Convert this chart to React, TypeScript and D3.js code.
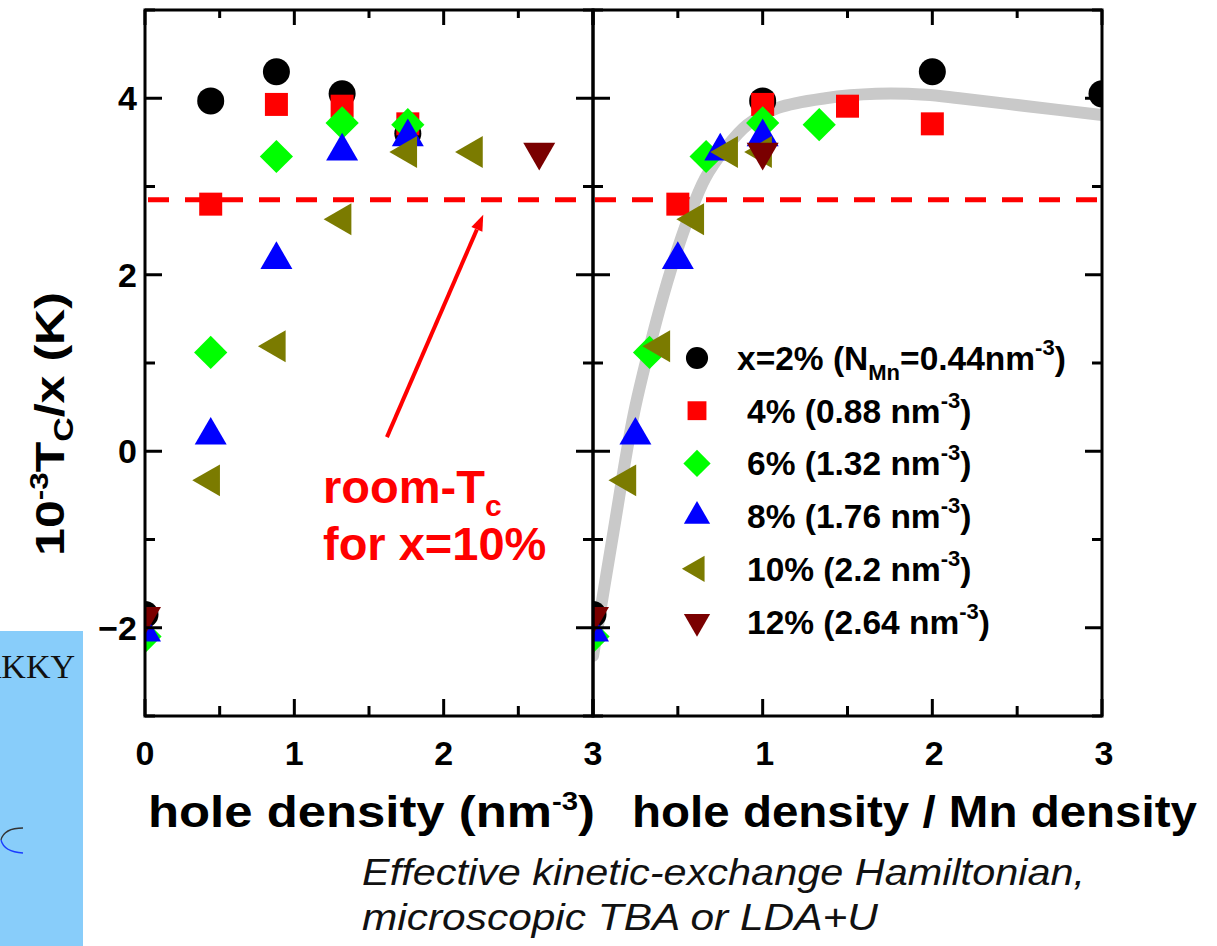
import React from "react";
import * as d3 from "d3";

const W = 1217;
const H = 946;

// Mn doping levels and their Mn densities (nm^-3)
const seriesLabels = ["x=2%", "4%", "6%", "8%", "10%", "12%"];
const mnDensities = [0.44, 0.88, 1.32, 1.76, 2.2, 2.64];
const seriesColors = ["#000000", "#ff0000", "#00ff00", "#0000ff", "#7b7b00", "#7a0000"];
const seriesMarkers = ["circle", "square", "diamond", "triangleUp", "triangleLeft", "triangleDown"];

// hole density (nm^-3) and 10^-3 Tc/x (K) for each doping level
const holeX2 = [0, 0.44, 0.88, 1.32, 1.76];
const tcX2 = [-1.85, 3.97, 4.3, 4.05, 3.6];
const holeX4 = [0.44, 0.88, 1.32, 1.76];
const tcX4 = [2.8, 3.93, 3.91, 3.71];
const holeX6 = [0, 0.44, 0.88, 1.32, 1.76];
const tcX6 = [-2.1, 1.12, 3.34, 3.72, 3.7];
const holeX8 = [0, 0.44, 0.88, 1.32, 1.76];
const tcX8 = [-2.05, 0.18, 2.17, 3.4, 3.56];
const holeX10 = [0.44, 0.88, 1.32, 1.76, 2.2];
const tcX10 = [-0.33, 1.19, 2.63, 3.39, 3.39];
const holeX12 = [0, 2.64];
const tcX12 = [-1.87, 3.39];

const seriesHole = [holeX2, holeX4, holeX6, holeX8, holeX10, holeX12];
const seriesTc = [tcX2, tcX4, tcX6, tcX8, tcX10, tcX12];

// universal curve vs hole density / Mn density
const fitRatio = [0, 0.12, 0.24, 0.37, 0.46, 0.56, 0.66, 0.78, 0.91, 1.09, 1.37, 1.67, 1.96, 2.16, 2.56, 3.0];
const fitTc = [-2.32, -0.92, 0.42, 1.45, 2.06, 2.63, 3.09, 3.43, 3.7, 3.89, 4.0, 4.05, 4.04, 4.0, 3.91, 3.81];

// room temperature Tc level for x = 10%
const roomTcLevel = 2.85;

const xTickLabelsLeft = [0, 1, 2, 3];
const xTickLabelsRight = [1, 2, 3];
const yTickLabels = [-2, 0, 2, 4];

const FONT = "'Liberation Sans', Arial, Helvetica, sans-serif";
const fmt = d3.format("d");

const y = d3.scaleLinear().domain([-3, 5]).range([716, 10]);
const xL = d3.scaleLinear().domain([0, 3]).range([145, 593]);
const xR = d3.scaleLinear().domain([0, 3]).range([593, 1102]);

function markerPath(kind: string, scale: number) {
  const s = d3.symbol();
  if (kind === "circle") return { d: s.type(d3.symbolCircle).size(573 * scale * scale)(), rot: 0 };
  if (kind === "square") return { d: s.type(d3.symbolSquare).size(529 * scale * scale)(), rot: 0 };
  if (kind === "diamond") return { d: s.type(d3.symbolSquare).size(552 * scale * scale)(), rot: 45 };
  const tri = s.type(d3.symbolTriangle).size(443 * scale * scale)();
  if (kind === "triangleUp") return { d: tri, rot: 0 };
  if (kind === "triangleLeft") return { d: tri, rot: -90 };
  return { d: tri, rot: 180 };
}

function Marker({ kind, color, cx, cy, scale = 1 }: any) {
  const m = markerPath(kind, scale);
  return (
    <path
      d={m.d as string}
      fill={color}
      transform={`translate(${cx},${cy}) rotate(${m.rot})`}
    />
  );
}

function PanelFrame({ x }: { x: d3.ScaleLinear<number, number> }) {
  const [x0, x1] = x.range();
  const [y0, y1] = [y(-3), y(5)];
  const xt = d3.range(0, 3.001, 0.5);
  const yt = d3.range(-3, 5.001, 1);
  const tl = (major: boolean) => (major ? 17 : 10);
  return (
    <g stroke="#000" strokeWidth={3}>
      {xt.map((v) => {
        const major = Math.abs(v - Math.round(v)) < 1e-6;
        return (
          <g key={"x" + v}>
            <line x1={x(v)} x2={x(v)} y1={y0} y2={y0 - tl(major)} />
            <line x1={x(v)} x2={x(v)} y1={y1} y2={y1 + tl(major) - 2} />
          </g>
        );
      })}
      {yt.map((v) => {
        const major = v % 2 === 0;
        return (
          <g key={"y" + v}>
            <line x1={x0} x2={x0 + tl(major)} y1={y(v)} y2={y(v)} />
            <line x1={x1} x2={x1 - tl(major)} y1={y(v)} y2={y(v)} />
          </g>
        );
      })}
      <rect x={x0} y={y1} width={x1 - x0} height={y0 - y1} fill="none" />
    </g>
  );
}

export default function App() {
  const yTop = y(5);
  const yBot = y(-3);

  const fitLine = d3
    .line<number>()
    .x((_, i) => xR(fitRatio[i]))
    .y((d) => y(d))
    .curve(d3.curveCatmullRom.alpha(0.5));

  // arrow from the annotation to the dashed room-Tc level
  const arrowFrom = [xL(1.62), y(0.16)];
  const arrowTo = [xL(2.265), y(2.68)];
  const adx = arrowTo[0] - arrowFrom[0];
  const ady = arrowTo[1] - arrowFrom[1];
  const alen = Math.hypot(adx, ady);
  const ux = adx / alen;
  const uy = ady / alen;
  const headLen = 16;
  const headHalf = 6;
  const bx = arrowTo[0] - ux * headLen;
  const by = arrowTo[1] - uy * headLen;
  const head = `M${arrowTo[0]},${arrowTo[1]}L${bx - uy * headHalf},${by + ux * headHalf}L${bx + uy * headHalf},${by - ux * headHalf}Z`;

  const legendX = 697;
  const legendY0 = 358;
  const legendDy = 52.7;

  return (
    <svg
      width={W}
      height={H}
      viewBox={`0 0 ${W} ${H}`}
      style={{ position: "absolute", left: 0, top: 0, background: "#fff" }}
      fontFamily={FONT}
    >
      <defs>
        <clipPath id="clipL">
          <rect x={xL(0)} y={yTop} width={xL(3) - xL(0)} height={yBot - yTop} />
        </clipPath>
        <clipPath id="clipR">
          <rect x={xR(0)} y={yTop} width={xR(3) - xR(0)} height={yBot - yTop} />
        </clipPath>
      </defs>

      {/* slide background fragment */}
      <rect x={0} y={631} width={83} height={315} fill="#88cdfa" />
      <text x={75} y={678} textAnchor="end" fontFamily="'Liberation Serif', 'Times New Roman', serif" fontSize={34} fill="#111">
        RKKY
      </text>
      <path d="M23,828 Q4,828 1,840" fill="none" stroke="#333" strokeWidth={1.3} />
      <path d="M1,840 Q4,852 23,853" fill="none" stroke="#1a3cff" strokeWidth={1.3} />

      {/* room-Tc level */}
      <line x1={xL(0) + 3} x2={xL(3)} y1={y(roomTcLevel)} y2={y(roomTcLevel)} stroke="#ff0000" strokeWidth={5} strokeDasharray="21 16" />
      <line x1={xR(0) + 2} x2={xR(3)} y1={y(roomTcLevel)} y2={y(roomTcLevel)} stroke="#ff0000" strokeWidth={5} strokeDasharray="21 16" />

      {/* universal curve */}
      <g clipPath="url(#clipR)">
        <path d={fitLine(fitTc) as string} fill="none" stroke="#c9c9c9" strokeWidth={12} strokeLinecap="round" />
      </g>

      {/* data: left panel vs hole density */}
      <g clipPath="url(#clipL)">
        {seriesHole.map((hs, si) =>
          hs.map((h, i) => (
            <Marker key={`L${si}-${i}`} kind={seriesMarkers[si]} color={seriesColors[si]} cx={xL(h)} cy={y(seriesTc[si][i])} />
          ))
        )}
      </g>
      {/* data: right panel vs hole density / Mn density */}
      <g clipPath="url(#clipR)">
        {seriesHole.map((hs, si) =>
          hs.map((h, i) => (
            <Marker key={`R${si}-${i}`} kind={seriesMarkers[si]} color={seriesColors[si]} cx={xR(h / mnDensities[si])} cy={y(seriesTc[si][i])} />
          ))
        )}
      </g>

      <PanelFrame x={xL} />
      <PanelFrame x={xR} />

      {/* tick labels */}
      <g fontSize={34} fontWeight="bold" fill="#000">
        {yTickLabels.map((v) => (
          <text key={"yl" + v} x={137} y={y(v) + 12} textAnchor="end">
            {fmt(v)}
          </text>
        ))}
        {xTickLabelsLeft.map((v) => (
          <text key={"xl" + v} x={xL(v)} y={765} textAnchor="middle">
            {fmt(v)}
          </text>
        ))}
        {xTickLabelsRight.map((v) => (
          <text key={"xr" + v} x={xR(v) + 2} y={765} textAnchor="middle">
            {fmt(v)}
          </text>
        ))}
      </g>

      {/* axis titles */}
      <text x={148} y={827} fontSize={45} fontWeight="bold" textLength={447} lengthAdjust="spacingAndGlyphs">
        hole density (nm<tspan fontSize={26} dy={-17}>-3</tspan>
        <tspan dy={17}>)</tspan>
      </text>
      <text x={632} y={827} fontSize={45} fontWeight="bold" textLength={565} lengthAdjust="spacingAndGlyphs">
        hole density / Mn density
      </text>
      <text
        transform={`translate(64,424) rotate(-90)`}
        textAnchor="middle"
        fontSize={40}
        fontWeight="bold"
        textLength={264}
        lengthAdjust="spacingAndGlyphs"
      >
        10<tspan fontSize={25} dy={-16}>-3</tspan>
        <tspan dy={16}>T</tspan>
        <tspan fontSize={27} dy={9}>C</tspan>
        <tspan dy={-9}>/x (K)</tspan>
      </text>

      {/* annotation */}
      <line x1={arrowFrom[0]} y1={arrowFrom[1]} x2={bx} y2={by} stroke="#ff0000" strokeWidth={4} />
      <path d={head} fill="#ff0000" />
      <g fill="#ff0000" fontWeight="bold" fontSize={47}>
        <text x={323} y={503}>
          room-T<tspan fontSize={30} dy={13}>c</tspan>
        </text>
        <text x={323} y={560}>for x=10%</text>
      </g>

      {/* legend */}
      <g fontSize={33.5} fontWeight="bold" fill="#000">
        {seriesLabels.map((lab, i) => {
          const cy = legendY0 + i * legendDy;
          return (
            <g key={"lg" + i}>
              <Marker kind={seriesMarkers[i]} color={seriesColors[i]} cx={legendX} cy={cy} scale={0.82} />
              {i === 0 ? (
                <text x={737} y={cy + 12}>
                  {lab} (N<tspan fontSize={22} dy={10}>Mn</tspan>
                  <tspan dy={-10}>={mnDensities[i]}nm</tspan>
                  <tspan fontSize={22} dy={-15}>-3</tspan>
                  <tspan dy={15}>)</tspan>
                </text>
              ) : (
                <text x={747} y={cy + 12}>
                  {lab} ({mnDensities[i]} nm<tspan fontSize={22} dy={-15}>-3</tspan>
                  <tspan dy={15}>)</tspan>
                </text>
              )}
            </g>
          );
        })}
      </g>

      {/* caption */}
      <g fontStyle="italic" fontSize={36} fill="#111">
        <text x={362} y={885} textLength={723} lengthAdjust="spacingAndGlyphs">
          Effective kinetic-exchange Hamiltonian,
        </text>
        <text x={362} y={930} textLength={516} lengthAdjust="spacingAndGlyphs">
          microscopic TBA or LDA+U
        </text>
      </g>
    </svg>
  );
}
